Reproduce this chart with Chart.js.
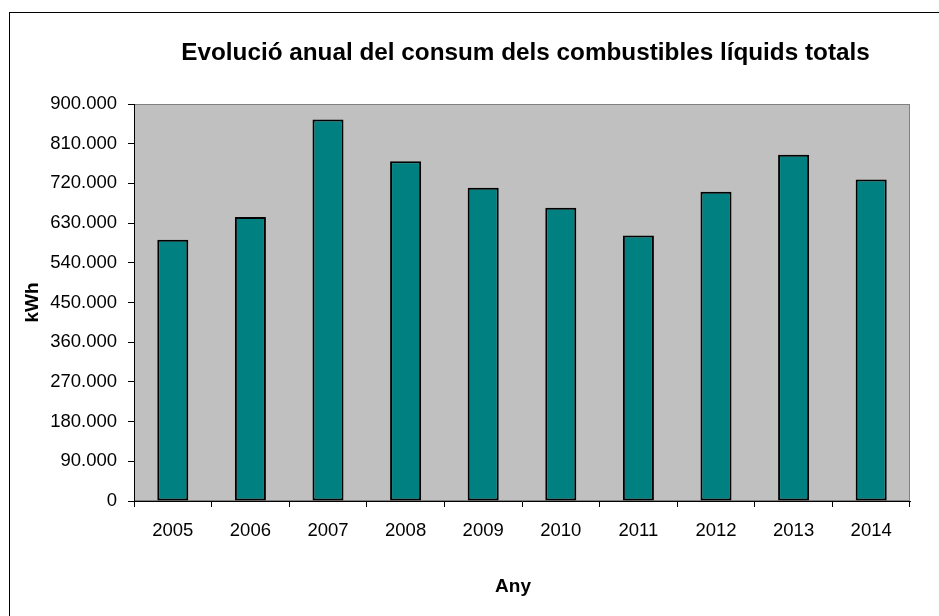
<!DOCTYPE html>
<html>
<head>
<meta charset="utf-8">
<style>
  html, body { margin: 0; padding: 0; background: #ffffff; }
  #wrap { width: 939px; height: 616px; position: relative; }
</style>
<script src="https://cdn.jsdelivr.net/npm/chart.js@4/dist/chart.umd.min.js"></script>
</head>
<body>
<div id="wrap"><canvas id="chart" width="939" height="616"></canvas></div>
<script>
// Annual consumption of total liquid fuels (kWh)
const years = ['2005', '2006', '2007', '2008', '2009', '2010', '2011', '2012', '2013', '2014'];
const consumption = [592000, 644000, 865000, 770000, 710000, 665000, 602000, 701000, 785000, 729000];
const yTickValues = [0, 90000, 180000, 270000, 360000, 450000, 540000, 630000, 720000, 810000, 900000];

const chartTitle = 'Evolució anual del consum dels combustibles líquids totals';
const xTitle = 'Any';
const yTitle = 'kWh';

const FONT = '"Liberation Sans", Arial, sans-serif';

function formatThousands(v) {
  return String(Math.round(v)).replace(/\B(?=(\d{3})+(?!\d))/g, '.');
}

// Grey plot background, frame, outer border and titles
const decorations = {
  id: 'decorations',
  beforeDraw(chart) {
    const { ctx, chartArea: a } = chart;
    ctx.save();
    ctx.fillStyle = '#ffffff';
    ctx.fillRect(0, 0, chart.width, chart.height);
    // outer border
    ctx.strokeStyle = '#000000';
    ctx.lineWidth = 1;
    ctx.strokeRect(9.5, 12.5, 1000, 1000);
    // plot area
    ctx.fillStyle = '#c0c0c0';
    ctx.fillRect(a.left, a.top, a.right - a.left, a.bottom - a.top);
    ctx.strokeStyle = '#808080';
    ctx.strokeRect(a.left + 0.5, a.top + 0.5, a.right - a.left - 1, a.bottom - a.top - 1);
    ctx.restore();
  },
  afterDraw(chart) {
    const { ctx, chartArea: a } = chart;
    ctx.save();
    ctx.fillStyle = '#000000';
    ctx.textAlign = 'center';
    ctx.textBaseline = 'alphabetic';
    ctx.font = 'bold 24.3px ' + FONT;
    ctx.fillText(chartTitle, 525.5, 59.5);
    ctx.font = 'bold 19px ' + FONT;
    ctx.fillText(xTitle, 513, 591.5);
    ctx.translate(38, (a.top + a.bottom) / 2);
    ctx.rotate(-Math.PI / 2);
    ctx.fillText(yTitle, 0, 0);
    ctx.restore();
  }
};

new Chart(document.getElementById('chart'), {
  type: 'bar',
  data: {
    labels: years,
    datasets: [{
      data: consumption,
      backgroundColor: '#008080',
      borderColor: '#000000',
      borderWidth: 2,
      borderSkipped: false,
      barPercentage: 0.4,
      categoryPercentage: 1.0
    }]
  },
  options: {
    responsive: false,
    animation: false,
    devicePixelRatio: 1,
    layout: { padding: { left: 50, right: 29, top: 104, bottom: 75 } },
    plugins: {
      legend: { display: false },
      title: { display: false },
      tooltip: { enabled: false }
    },
    scales: {
      x: {
        offset: true,
        afterFit(scale) { scale.height = 40; },
        grid: {
          display: true,
          offset: true,
          drawOnChartArea: false,
          drawTicks: true,
          tickLength: 6,
          color: '#000000'
        },
        border: { display: true, color: '#000000', width: 1 },
        ticks: {
          color: '#000000',
          font: { family: FONT, size: 18.5 },
          padding: 13,
          maxRotation: 0
        }
      },
      y: {
        min: 0,
        max: 900000,
        afterFit(scale) { scale.width = 84; },
        afterBuildTicks(scale) {
          scale.ticks = yTickValues.map(v => ({ value: v }));
        },
        grid: {
          display: true,
          drawOnChartArea: false,
          drawTicks: true,
          tickLength: 6,
          color: '#000000'
        },
        border: { display: true, color: '#000000', width: 1 },
        ticks: {
          color: '#000000',
          font: { family: FONT, size: 18.5 },
          padding: 11,
          callback: (v) => formatThousands(v)
        }
      }
    }
  },
  plugins: [decorations]
});
</script>
</body>
</html>
